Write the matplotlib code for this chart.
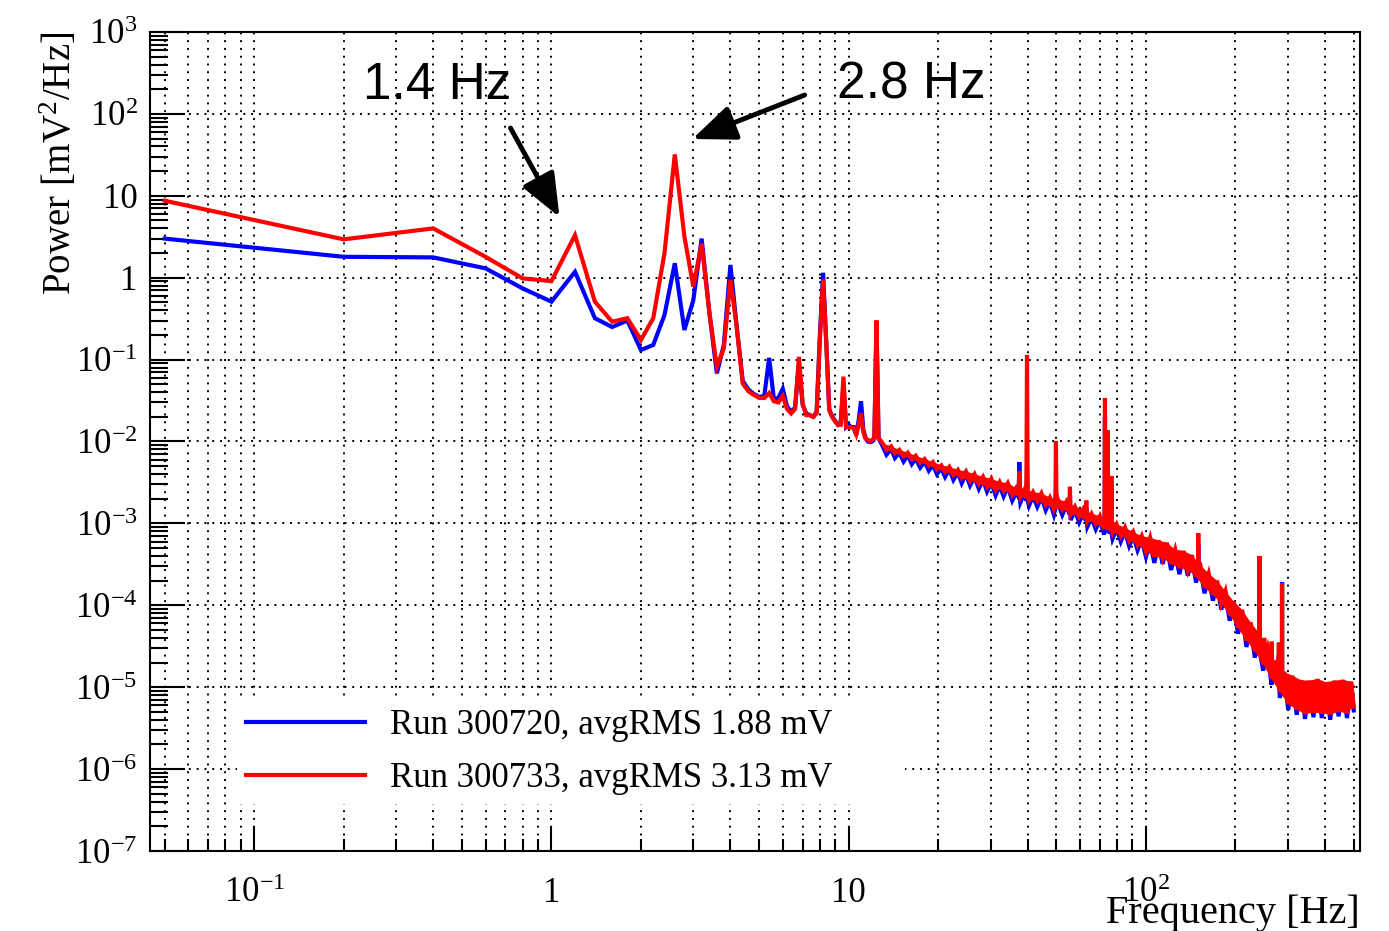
import numpy as np
import matplotlib
matplotlib.use("Agg")
import matplotlib.pyplot as plt
from matplotlib.ticker import FixedLocator, LogLocator, NullFormatter

plt.rcParams['font.family'] = ['Liberation Serif', 'DejaVu Serif']
plt.rcParams['mathtext.fontset'] = 'custom'
plt.rcParams['mathtext.rm'] = 'Liberation Serif'
plt.rcParams['mathtext.it'] = 'Liberation Serif:italic'

# ---------------- data ----------------
low_freq = [0.05, 0.2, 0.4, 0.6, 0.8, 1.0, 1.2, 1.4, 1.6, 1.8, 2.0, 2.2, 2.4, 2.6, 2.8,
            3.0, 3.2, 3.4, 3.6, 3.8, 4.0, 4.2, 4.4, 4.6, 4.8, 5.0, 5.2, 5.4, 5.6, 5.8,
            6.0, 6.2, 6.4, 6.6, 6.8, 7.0, 7.2, 7.4, 7.6, 7.8, 8.0, 8.2, 8.4, 8.6, 8.8,
            9.0, 9.2, 9.4, 9.6, 9.8, 10.0, 10.2, 10.4, 10.6, 10.8, 11.0, 11.2, 11.4,
            11.6, 11.8, 12.0, 12.2, 12.4, 12.6, 12.8]
red_low = [8.7, 2.94, 4.0, 1.80, 0.98, 0.91, 3.3, 0.51, 0.29, 0.32, 0.174, 0.32, 1.99, 32,
           3.2, 0.78, 2.6, 0.37, 0.082, 0.137, 0.94, 0.25, 0.051, 0.041, 0.037, 0.034,
           0.034, 0.039, 0.031, 0.030, 0.036, 0.025, 0.022, 0.025, 0.108, 0.029, 0.021,
           0.021, 0.020, 0.022, 0.18, 0.95, 0.17, 0.024, 0.020, 0.0175, 0.016, 0.016,
           0.062, 0.015, 0.015, 0.015, 0.0145, 0.0122, 0.016, 0.022, 0.013, 0.0108,
           0.0105, 0.010, 0.0105, 0.011, 0.30, 0.011, 0.0103]
blue_low = [3.0, 1.80, 1.77, 1.30, 0.74, 0.51, 1.18, 0.32, 0.25, 0.30, 0.131, 0.151, 0.35,
            1.5, 0.23, 0.53, 3.0, 0.37, 0.068, 0.15, 1.43, 0.25, 0.055, 0.043, 0.038,
            0.035, 0.036, 0.105, 0.033, 0.034, 0.044, 0.027, 0.023, 0.026, 0.09, 0.028,
            0.022, 0.021, 0.020, 0.023, 0.20, 1.15, 0.17, 0.025, 0.020, 0.018, 0.016,
            0.017, 0.05, 0.015, 0.016, 0.015, 0.015, 0.012, 0.018, 0.031, 0.014, 0.011,
            0.010, 0.0098, 0.010, 0.011, 0.28, 0.011, 0.0098]

# noisy continuum above 13 Hz: alternating upper / lower edge of the noise band
hf_freq = [13.0, 13.4, 13.9, 14.3, 14.8, 15.3, 15.8, 16.3, 16.8, 17.4,
           18.0, 18.6, 19.2, 19.8, 20.5, 21.1, 21.8, 22.5, 23.3, 24.0,
           24.8, 25.6, 26.5, 27.4, 28.3, 29.2, 30.2, 31.2, 32.2, 33.2,
           34.3, 35.5, 36.6, 37.8, 39.1, 40.4, 41.7, 43.1, 44.5, 46.0,
           47.5, 49.0, 50.6, 52.3, 54.0, 55.8, 57.7, 59.6, 61.5, 63.5,
           65.6, 67.8, 70.0, 72.3, 74.7, 77.2, 79.7, 82.3, 85.0, 87.8,
           90.7, 93.7, 96.8, 100.0, 103.3, 106.7, 110.2, 113.8, 117.6, 121.5,
           125.5, 129.6, 133.9, 138.3, 142.8, 147.5, 152.4, 157.4, 162.6, 168.0,
           173.5, 179.2, 185.2, 191.3, 197.6, 204.1, 210.8, 217.8, 225.0, 232.4,
           240.0, 248.0, 256.1, 264.6, 273.3, 282.3, 291.6, 301.2, 311.2, 321.4,
           332.0, 343.0, 354.3, 366.0, 378.0, 390.5, 403.4, 416.7, 430.5, 444.7,
           459.3, 474.5, 490.2, 500.0]
red_hf = [9.5e-3, 7.9e-3, 8.7e-3, 7.2e-3, 7.9e-3, 6.6e-3, 7.3e-3, 6.1e-3, 6.7e-3, 5.5e-3,
          6.1e-3, 5.1e-3, 5.6e-3, 4.6e-3, 5.1e-3, 4.3e-3, 4.9e-3, 3.9e-3, 4.5e-3, 3.6e-3,
          4.3e-3, 3.3e-3, 4.0e-3, 3.05e-3, 3.7e-3, 2.8e-3, 3.5e-3, 2.58e-3, 3.2e-3, 2.52e-3,
          3.1e-3, 2.23e-3, 2.7e-3, 2.13e-3, 2.64e-3, 1.93e-3, 2.4e-3, 1.88e-3, 2.33e-3, 1.70e-3,
          2.07e-3, 1.51e-3, 1.96e-3, 1.49e-3, 1.84e-3, 1.30e-3, 1.60e-3, 1.21e-3, 1.49e-3, 1.07e-3,
          1.31e-3, 1.0e-3, 1.23e-3, 8.6e-4, 1.05e-3, 7.7e-4, 9.7e-4, 7.1e-4, 8.9e-4, 6.2e-4,
          7.8e-4, 5.5e-4, 7.0e-4, 4.6e-4, 6.7e-4, 3.9e-4, 6.2e-4, 3.8e-4, 5.8e-4, 3.2e-4,
          4.8e-4, 2.85e-4, 4.6e-4, 2.7e-4, 4.1e-4, 2.23e-4, 3.1e-4, 1.65e-4, 2.44e-4, 1.34e-4,
          2.0e-4, 1.05e-4, 1.49e-4, 7.6e-5, 1.11e-4, 5.3e-5, 8.8e-5, 3.7e-5, 6.2e-5, 2.74e-5,
          4.6e-5, 1.9e-5, 3.1e-5, 1.26e-5, 2.0e-5, 8.7e-6, 1.54e-5, 6.2e-6, 1.38e-5, 5.3e-6,
          1.22e-5, 4.7e-6, 1.2e-5, 4.9e-6, 1.26e-5, 4.8e-6, 1.15e-5, 4.6e-6, 1.2e-5, 5.0e-6,
          1.23e-5, 4.8e-6, 1.17e-5, 5.8e-6]
blue_hf = [8.8e-3, 6.9e-3, 8.1e-3, 6.3e-3, 7.3e-3, 5.7e-3, 6.8e-3, 5.3e-3, 6.2e-3, 4.8e-3,
           5.7e-3, 4.4e-3, 5.2e-3, 4.0e-3, 4.7e-3, 3.7e-3, 4.6e-3, 3.4e-3, 4.2e-3, 3.1e-3,
           4.0e-3, 2.9e-3, 3.7e-3, 2.65e-3, 3.4e-3, 2.45e-3, 3.15e-3, 2.2e-3, 2.9e-3, 2.14e-3,
           2.8e-3, 1.9e-3, 2.4e-3, 1.8e-3, 2.4e-3, 1.64e-3, 2.16e-3, 1.6e-3, 2.1e-3, 1.45e-3,
           1.86e-3, 1.28e-3, 1.76e-3, 1.27e-3, 1.66e-3, 1.1e-3, 1.44e-3, 1.03e-3, 1.34e-3, 9.1e-4,
           1.18e-3, 8.5e-4, 1.1e-3, 7.3e-4, 9.5e-4, 6.5e-4, 8.7e-4, 6.0e-4, 8.0e-4, 5.3e-4,
           7.0e-4, 4.7e-4, 6.3e-4, 3.9e-4, 6.0e-4, 3.3e-4, 5.6e-4, 3.2e-4, 5.2e-4, 2.7e-4,
           4.3e-4, 2.4e-4, 4.1e-4, 2.3e-4, 3.7e-4, 1.9e-4, 2.8e-4, 1.4e-4, 2.2e-4, 1.14e-4,
           1.8e-4, 8.9e-5, 1.34e-4, 6.5e-5, 1.0e-4, 4.5e-5, 7.9e-5, 3.1e-5, 5.6e-5, 2.3e-5,
           4.1e-5, 1.6e-5, 2.8e-5, 1.07e-5, 1.8e-5, 7.4e-6, 1.39e-5, 5.3e-6, 1.3e-5, 4.6e-6,
           1.15e-5, 4.1e-6, 1.1e-5, 4.3e-6, 1.2e-5, 4.2e-6, 1.1e-5, 4.0e-6, 1.15e-5, 4.4e-6,
           1.17e-5, 4.2e-6, 1.12e-5, 5.2e-6]

spike_freq = [37.3, 37.5, 37.7, 39.6, 39.8, 40.0, 49.6, 49.8, 50.0, 55.3, 55.5, 55.7,
              62.8, 63.0, 63.2, 72.6, 72.8, 73.0, 74.0, 74.2, 74.4, 76.3, 76.5, 76.7,
              149.8, 150.0, 150.2, 240.8, 241.0, 241.2, 249.8, 250.0, 250.2,
              264.8, 265.0, 265.2, 279.8, 280.0, 280.2, 286.8, 287.0, 287.2]
spike_red = [2.4e-3, 4.3e-3, 2.3e-3, 2.2e-3, 0.114, 2.2e-3, 1.75e-3, 0.010, 1.75e-3,
             1.5e-3, 2.8e-3, 1.45e-3, 1.23e-3, 1.9e-3, 1.2e-3, 9.8e-4, 0.034, 9.6e-4,
             9.2e-4, 0.0137, 9.0e-4, 8.5e-4, 3.8e-3, 8.4e-4, 3.0e-4, 7.6e-4, 3.0e-4,
             3.3e-5, 4.0e-4, 3.2e-5, 2.5e-5, 4.0e-5, 2.5e-5, 1.8e-5, 3.6e-5, 1.8e-5,
             1.3e-5, 3.5e-5, 1.3e-5, 1.1e-5, 1.87e-4, 1.1e-5]
spike_blue = [2.1e-3, 5.6e-3, 2.0e-3, 1.9e-3, 4.5e-3, 1.9e-3, 1.55e-3, 2.6e-3, 1.55e-3,
              1.3e-3, 2.2e-3, 1.3e-3, 1.08e-3, 1.5e-3, 1.07e-3, 8.7e-4, 0.02, 8.5e-4,
              8.2e-4, 0.01, 8.0e-4, 7.6e-4, 3.0e-3, 7.5e-4, 2.6e-4, 5.5e-4, 2.6e-4,
              2.9e-5, 2.5e-4, 2.8e-5, 2.2e-5, 3.0e-5, 2.2e-5, 1.6e-5, 2.5e-5, 1.6e-5,
              1.15e-5, 2.5e-5, 1.15e-5, 1.0e-5, 1.9e-4, 1.0e-5]

labels = ["Run 300720, avgRMS 1.88 mV", "Run 300733, avgRMS 3.13 mV"]
x_ticks = [0.1, 1, 10, 100]
x_ticklabels = [r"$\mathregular{10^{-1}}$", "1", "10", r"$\mathregular{10^{2}}$"]
y_ticks = [1e-7, 1e-6, 1e-5, 1e-4, 1e-3, 1e-2, 1e-1, 1, 10, 100, 1000]
y_ticklabels = [r"$\mathregular{10^{-7}}$", r"$\mathregular{10^{-6}}$", r"$\mathregular{10^{-5}}$",
                r"$\mathregular{10^{-4}}$", r"$\mathregular{10^{-3}}$", r"$\mathregular{10^{-2}}$",
                r"$\mathregular{10^{-1}}$", "1", "10", r"$\mathregular{10^{2}}$",
                r"$\mathregular{10^{3}}$"]

# ---------------- assemble ----------------
f_all = np.concatenate([low_freq, hf_freq, spike_freq])
r_all = np.concatenate([red_low, red_hf, spike_red])
b_all = np.concatenate([blue_low, blue_hf, spike_blue])
order = np.argsort(f_all, kind="stable")
f_all, r_all, b_all = f_all[order], r_all[order], b_all[order]

hf_f = np.asarray(hf_freq)
band_x = np.concatenate([hf_f[0::2], hf_f[1::2][::-1]])
red_band = np.concatenate([np.asarray(red_hf)[0::2], np.asarray(red_hf)[1::2][::-1]])

# ---------------- figure ----------------
fig = plt.figure(figsize=(13.89, 9.31), dpi=100)
ax = fig.add_axes([150/1389, 80/931, 1210/1389, 819/931])
ax.set_xscale("log")
ax.set_yscale("log")
ax.set_xlim(0.0446, 525)
ax.set_ylim(1e-7, 1e3)

lb, = ax.plot(f_all, b_all, color=(0, 0, 1), lw=3.0, solid_joinstyle="miter", zorder=3)
ax.fill(band_x, red_band, color=(1, 0, 0), lw=0, zorder=4)
lr, = ax.plot(f_all, r_all, color=(1, 0, 0), lw=3.0, solid_joinstyle="miter", zorder=4)

# grid
ax.set_axisbelow(True)
gkw = dict(color="black", lw=1.4, linestyle=(0, (1, 3)))
ax.grid(True, which="major", axis="both", **gkw)
ax.grid(True, which="minor", axis="x", **gkw)

# ticks
ax.xaxis.set_major_locator(FixedLocator(x_ticks))
ax.xaxis.set_minor_locator(LogLocator(base=10, subs=np.arange(2, 10)))
ax.xaxis.set_minor_formatter(NullFormatter())
ax.set_xticks(x_ticks, x_ticklabels, va="baseline", fontsize=25)
ax.yaxis.set_major_locator(FixedLocator(y_ticks))
ax.yaxis.set_minor_locator(LogLocator(base=10, subs=np.arange(2, 10), numticks=20))
ax.yaxis.set_minor_formatter(NullFormatter())
ax.set_yticks(y_ticks, y_ticklabels, fontsize=25)
ax.tick_params(axis="both", which="both", direction="in", width=1.5, color="black")
ax.tick_params(axis="x", which="major", length=18, pad=37)
ax.tick_params(axis="x", which="minor", length=9)
ax.tick_params(axis="y", which="major", length=25, pad=9)
ax.tick_params(axis="y", which="minor", length=13)
for s in ax.spines.values():
    s.set_linewidth(1.5)

ax.set_xlabel("Frequency [Hz]", fontsize=29, loc="right")
ax.xaxis.set_label_coords(1.0, -0.053)
ax.set_ylabel(r"Power [mV$^{\mathregular{2}}$/Hz]", fontsize=28, loc="top")
ax.yaxis.set_label_coords(-0.058, 1.0)

# legend
leg = ax.legend([lb, lr], labels, loc="upper left",
                bbox_to_anchor=(0.072, 0.062, 0.552, 0.122), mode="expand",
                borderaxespad=0, frameon=True, fancybox=False, framealpha=1,
                facecolor="white", edgecolor="none", fontsize=25,
                handlelength=3.43, handletextpad=0.72, labelspacing=0.58,
                borderpad=0.25)
leg.set_zorder(6)

# annotations
akw = dict(arrowstyle="-|>,head_length=1.1,head_width=0.45", lw=3.5, color="black",
           shrinkA=0, shrinkB=0, mutation_scale=24)
ax.annotate("", xy=(1.064, 5.5), xytext=(0.728, 67.3), arrowprops=akw, zorder=7)
ax.annotate("", xy=(2.98, 49.4), xytext=(7.11, 170), arrowprops=akw, zorder=7)
ax.text(0.413, 225, "1.4 Hz", fontsize=37, family=["Liberation Sans", "DejaVu Sans"],
        ha="center", va="center", zorder=7)
ax.text(16.2, 225, "2.8 Hz", fontsize=37, family=["Liberation Sans", "DejaVu Sans"],
        ha="center", va="center", zorder=7)

fig.savefig("out.png", dpi=100)
